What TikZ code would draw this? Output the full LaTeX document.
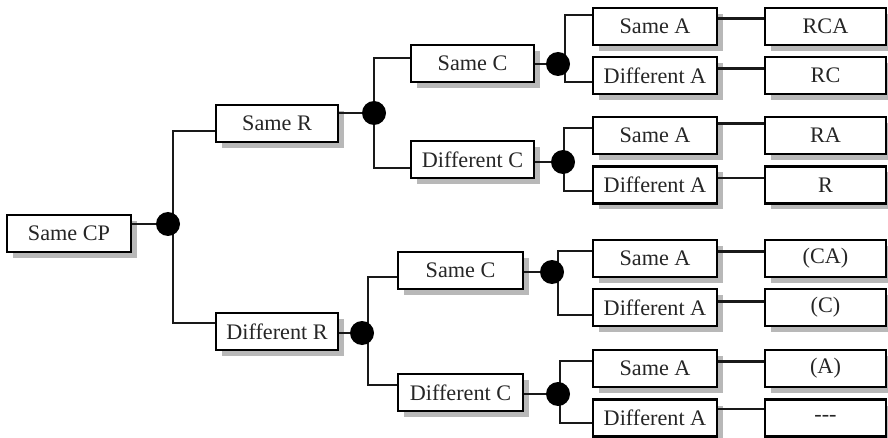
\documentclass[tikz,border=0pt]{standalone}
\usepackage{fontspec}
\setmainfont{Liberation Serif}
\usetikzlibrary{shadows}
\tikzset{
  box/.style={draw=black, line width=2.8pt, fill=white, minimum height=37pt, inner sep=0pt,
    text=black!85, font=\fontsize{22.2}{26}\selectfont,
    drop shadow={shadow xshift=6pt, shadow yshift=-6pt, fill=black!28, opacity=1}},
  abox/.style={box, minimum width=124pt},
  rbox/.style={box, minimum width=121pt},
  conn/.style={draw=black!90, line width=2.4pt},
  dot/.style={circle, fill=black, minimum size=24pt, inner sep=0pt}
}
\begin{document}
\begin{tikzpicture}[x=1pt,y=-1pt]
\useasboundingbox (0,0) rectangle (888,438);
% level 0
\node[box, minimum width=124pt] (cp) at (69,233.5) {Same CP};
% level 1
\node[box, minimum width=122pt] (sr) at (277,123.5) {Same R};
\node[box, minimum width=122pt] (dr) at (277,331.5) {Different R};
% level 2
\node[box, minimum width=123pt] (sc1) at (472.5,63.5) {Same C};
\node[box, minimum width=123pt] (dc1) at (472.5,159.5) {Different C};
\node[box, minimum width=125pt] (sc2) at (460.5,270.5) {Same C};
\node[box, minimum width=125pt] (dc2) at (460.5,392.5) {Different C};
% level 3
\node[abox] (sa1) at (655,26.5) {Same A};
\node[abox] (da1) at (655,75.5) {Different A};
\node[abox] (sa2) at (655,135.5) {Same A};
\node[abox] (da2) at (655,185) {Different A};
\node[abox] (sa3) at (655,258.5) {Same A};
\node[abox] (da3) at (655,307.5) {Different A};
\node[abox] (sa4) at (655,368.5) {Same A};
\node[abox] (da4) at (655,418) {Different A};
% results
\node[rbox] (r1) at (825.5,26.5) {RCA};
\node[rbox] (r2) at (825.5,75.5) {RC};
\node[rbox] (r3) at (825.5,135.5) {RA};
\node[rbox] (r4) at (825.5,185) {R};
\node[rbox] (r5) at (825.5,258.5) {(CA)};
\node[rbox] (r6) at (825.5,307.5) {(C)};
\node[rbox] (r7) at (825.5,368.5) {(A)};
\node[rbox] (r8) at (825.5,418) {\mbox{-}\mbox{-}\mbox{-}};
% junction coordinates
\coordinate (t0) at (173,131); \coordinate (b0) at (173,323);
\coordinate (t1) at (374,58);  \coordinate (b1) at (374,168);
\coordinate (t2) at (368,277); \coordinate (b2) at (368,385);
\coordinate (t3) at (565,15);  \coordinate (b3) at (565,82);
\coordinate (t4) at (564,128); \coordinate (b4) at (564,191);
\coordinate (t5) at (558,251); \coordinate (b5) at (558,315);
\coordinate (t6) at (560,361); \coordinate (b6) at (560,423);
% dot positions
\coordinate (p0) at (168,224);
\coordinate (p1) at (374,113);
\coordinate (p2) at (362,333);
\coordinate (p3) at (558,64);
\coordinate (p4) at (563,162);
\coordinate (p5) at (552,272);
\coordinate (p6) at (558,394);
% connectors
\draw[conn] (cp.east |- p0) -- (p0);
\draw[conn] (sr.west |- t0) -- (t0) -- (b0) -- (dr.west |- b0);
\draw[conn] (sr.east |- p1) -- (p1);
\draw[conn] (dr.east |- p2) -- (p2);
\draw[conn] (sc1.west |- t1) -- (t1) -- (b1) -- (dc1.west |- b1);
\draw[conn] (sc2.west |- t2) -- (t2) -- (b2) -- (dc2.west |- b2);
\draw[conn] (sc1.east |- p3) -- (p3);
\draw[conn] (dc1.east |- p4) -- (p4);
\draw[conn] (sc2.east |- p5) -- (p5);
\draw[conn] (dc2.east |- p6) -- (p6);
\draw[conn] (sa1.west |- t3) -- (t3) -- (b3) -- (da1.west |- b3);
\draw[conn] (sa2.west |- t4) -- (t4) -- (b4) -- (da2.west |- b4);
\draw[conn] (sa3.west |- t5) -- (t5) -- (b5) -- (da3.west |- b5);
\draw[conn] (sa4.west |- t6) -- (t6) -- (b6) -- (da4.west |- b6);
\draw[conn] ([yshift=8pt]sa1.east) -- ([yshift=8pt]r1.west);
\draw[conn] ([yshift=7pt]da1.east) -- ([yshift=7pt]r2.west);
\draw[conn] ([yshift=12pt]sa2.east) -- ([yshift=12pt]r3.west);
\draw[conn] ([yshift=7pt]da2.east) -- ([yshift=7pt]r4.west);
\draw[conn] ([yshift=7pt]sa3.east) -- ([yshift=7pt]r5.west);
\draw[conn] ([yshift=6pt]da3.east) -- ([yshift=6pt]r6.west);
\draw[conn] ([yshift=7pt]sa4.east) -- ([yshift=7pt]r7.west);
\draw[conn] ([yshift=9pt]da4.east) -- ([yshift=9pt]r8.west);
% dots
\node[dot] (d0) at (p0) {};
\node[dot] (d1) at (p1) {};
\node[dot] (d2) at (p2) {};
\node[dot] (d3) at (p3) {};
\node[dot] (d4) at (p4) {};
\node[dot] (d5) at (p5) {};
\node[dot] (d6) at (p6) {};
\end{tikzpicture}
\end{document}
